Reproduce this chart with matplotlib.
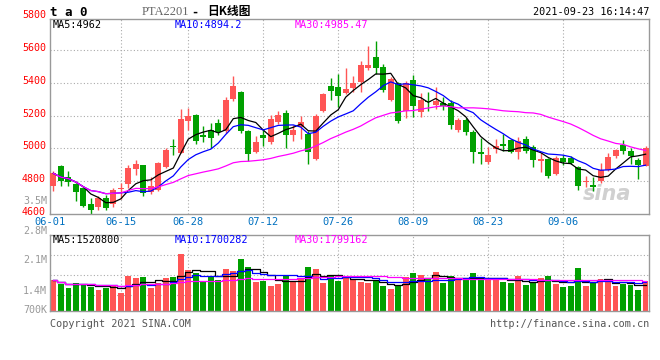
import matplotlib
matplotlib.use("Agg")
import matplotlib.pyplot as plt
import numpy as np
import pandas as pd

# daily candles, PTA2201, 2021-06-01 .. 2021-09-23 (80 trading days)
opens = [4768, 4891, 4827, 4782, 4760, 4663, 4645, 4700, 4663, 4752,
         4782, 4876, 4897, 4733, 4746, 4885, 5018, 4975, 5165, 5202,
         5085, 5111, 5156, 5105, 5303, 5347, 5109, 4976, 5085, 5038,
         5160, 5216, 5081, 5131, 5089, 4933, 5230, 5384, 5372, 5338,
         5368, 5408, 5493, 5556, 5495, 5297, 5398, 5226, 5418, 5223,
         5291, 5267, 5277, 5277, 5115, 5176, 5099, 4978, 4917, 4994,
         5030, 5050, 4980, 5060, 5010, 4923, 4933, 4846, 4943, 4939,
         4889, 4798, 4776, 4802, 4867, 4954, 5020, 4984, 4929, 4893]
highs = [4862, 4897, 4862, 4788, 4770, 4700, 4712, 4715, 4760, 4790,
         4900, 4930, 4897, 4825, 4920, 5000, 5060, 5240, 5245, 5210,
         5140, 5156, 5182, 5311, 5444, 5353, 5115, 5075, 5120, 5206,
         5230, 5236, 5145, 5196, 5105, 5210, 5337, 5428, 5452, 5489,
         5443, 5533, 5624, 5654, 5513, 5438, 5408, 5412, 5449, 5338,
         5344, 5374, 5317, 5297, 5186, 5186, 5115, 5065, 5008, 5060,
         5091, 5060, 5070, 5075, 5024, 4973, 4943, 4953, 4958, 4953,
         4893, 4830, 4826, 4911, 4974, 4998, 5050, 5004, 4943, 5012]
lows = [4740, 4770, 4770, 4680, 4645, 4600, 4622, 4622, 4645, 4690,
        4760, 4840, 4710, 4725, 4738, 4880, 4960, 4970, 5115, 5025,
        5040, 5005, 5085, 5095, 5287, 5095, 4923, 4970, 5015, 5030,
        5150, 5005, 5045, 5055, 4903, 4930, 5225, 5297, 5256, 5330,
        5347, 5347, 5479, 5453, 5347, 5287, 5156, 5186, 5190, 5190,
        5226, 5242, 5236, 5121, 5101, 5085, 4909, 4903, 4907, 4970,
        4984, 4975, 4935, 4975, 4887, 4856, 4820, 4840, 4897, 4907,
        4748, 4766, 4738, 4790, 4860, 4942, 4964, 4903, 4812, 4890]
closes = [4848, 4802, 4797, 4733, 4651, 4627, 4697, 4636, 4745, 4757,
          4882, 4903, 4730, 4770, 4909, 4988, 5006, 5182, 5200, 5045,
          5068, 5061, 5101, 5297, 5382, 5105, 4968, 5040, 5065, 5182,
          5206, 5081, 5111, 5162, 4980, 5196, 5331, 5353, 5322, 5364,
          5398, 5509, 5509, 5493, 5358, 5424, 5170, 5402, 5257, 5297,
          5281, 5287, 5261, 5145, 5176, 5099, 4978, 4968, 4958, 5014,
          5014, 4980, 5044, 4984, 4929, 4937, 4832, 4939, 4917, 4913,
          4772, 4800, 4766, 4867, 4950, 4988, 4984, 4954, 4899, 5000]
volumes = [1835, 1598, 1379, 1675, 1539, 1439, 1243, 1379, 1539, 1066,
           2072, 1971, 2013, 1362, 1640, 1971, 2013, 3374, 2445, 2267,
           1699, 2054, 1835, 2504, 2386, 3078, 2605, 1717, 1794, 1498,
           1616, 2131, 1794, 1912, 2605, 2504, 1658, 2113, 1776, 2072,
           1835, 1717, 1658, 1776, 1480, 1320, 1480, 2013, 2250, 2131,
           1894, 2309, 1658, 2072, 1835, 1835, 2250, 1912, 1936, 1936,
           1717, 1658, 2072, 1539, 1658, 1954, 2072, 1598, 1421, 1480,
           2546, 1480, 1658, 1894, 1835, 1480, 1598, 1539, 1243, 1776]
volumes = [v * 1000 for v in volumes]

tick_idx = [0, 9, 18, 28, 38, 48, 58, 68]
tick_labels = ["06-01", "06-15", "06-28", "07-12", "07-26", "08-09", "08-23", "09-06"]
price_ticks = [5800, 5600, 5400, 5200, 5000, 4800, 4600]
vol_labels = ["3.5M", "2.8M", "2.1M", "1.4M", "700K"]

RED = "#ff5555"
GREEN = "#00a000"
MONO = "DejaVu Sans Mono"

df = pd.DataFrame({"open": opens, "high": highs, "low": lows,
                   "close": closes, "vol": volumes})
n = len(df)
x = np.arange(n)
up = df["close"] >= df["open"]
colors = np.where(up, RED, GREEN)

W, H = 660, 360
fig = plt.figure(figsize=(W / 100, H / 100), dpi=100)
fig.patch.set_facecolor("white")


def box(l, t, r, b):
    return [l / W, 1 - b / H, (r - l) / W, (b - t) / H]


def style_panel(a):
    for s in a.spines.values():
        s.set_color("#999999")
        s.set_linewidth(1)
    a.set_xticks([])
    a.set_yticks([])
    a.set_xlim(-0.45, n - 0.55)
    for t in tick_idx[1:]:
        a.axvline(t, color="#aaaaaa", lw=0.8, ls=(0, (1, 2)), zorder=0)


grid_kw = dict(color="#aaaaaa", lw=0.8, ls=(0, (1, 2)), zorder=0)

# ---- price panel
ax = fig.add_axes(box(50, 19, 649, 214))
style_panel(ax)
ax.set_ylim(4600, 5790)
for p in price_ticks[1:-1]:
    ax.axhline(p, **grid_kw)

body_low = np.minimum(df["open"], df["close"])
body_h = np.maximum((df["close"] - df["open"]).abs(), 6)
ax.vlines(x, df["low"], df["high"], colors=colors, lw=1, zorder=2)
ax.bar(x, body_h, bottom=body_low, width=0.78, color=colors, zorder=3)

for win, c in [(5, "black"), (10, "blue"), (30, "magenta")]:
    ma = df["close"].rolling(win, min_periods=1).mean()
    ax.plot(x, ma, color=c, lw=0.9, zorder=4)

for p in price_ticks:
    ax.annotate(str(p), xy=(0, p), xycoords=ax.get_yaxis_transform(),
                xytext=(-3, 1.5), textcoords="offset points",
                ha="right", va="center", color="red", family=MONO,
                fontsize=7.2, annotation_clip=False)
for t, lab in zip(tick_idx, tick_labels):
    xt = t if t > 0 else -0.4
    ax.text(xt, -0.041, lab, transform=ax.get_xaxis_transform(),
            ha="center", va="center", color="#0070c0", family=MONO, fontsize=7.5)

ax.text(0.93, 0.1, "sina", transform=ax.transAxes, ha="center", va="center",
        fontsize=15, color="#d0d0d0", style="italic", weight="bold", zorder=1)

# ---- volume panel
vax = fig.add_axes(box(50, 235, 649, 311))
style_panel(vax)
vax.set_ylim(0, 4.5e6)
for f in [0.21, 0.474, 0.737]:
    vax.plot([0, 1], [f, f], transform=vax.transAxes, **grid_kw)
vax.bar(x, df["vol"], width=0.76, color=colors, zorder=2)
for win, c in [(5, "black"), (10, "blue"), (30, "magenta")]:
    vma = df["vol"].rolling(win, min_periods=1).mean()
    vax.plot(x, vma, color=c, lw=0.9, drawstyle="steps-mid", zorder=3)

for lab, py in zip(vol_labels, [201, 231, 260, 291, 310]):
    fig.text(47 / W, 1 - py / H, lab, ha="right", va="center",
             color="#999999", family=MONO, fontsize=7.2)

# ---- header / legends / footer
mono = dict(family=MONO, fontsize=7.3, va="center")
fig.text(50 / W, 1 - 12 / H, "t a 0", family=MONO, fontsize=9,
         weight="bold", va="center")
fig.text(142 / W, 1 - 12 / H, "PTA2201", family="Liberation Serif",
         fontsize=9, color="#666666", va="center")
fig.text(191 / W, 1 - 12 / H, "-", family=MONO, fontsize=8.5,
         weight="bold", va="center")
fig.text(207 / W, 1 - 12 / H, "日K线图", family=["Noto Sans CJK SC", "DejaVu Sans"],
         fontsize=8.5, weight="bold", va="center")
fig.text(649 / W, 1 - 12 / H, "2021-09-23 16:14:47", ha="right", **mono)

fig.text(53 / W, 1 - 25 / H, "MA5:4962", color="black", **mono)
fig.text(175 / W, 1 - 25 / H, "MA10:4894.2", color="blue", **mono)
fig.text(295 / W, 1 - 25 / H, "MA30:4985.47", color="magenta", **mono)

fig.text(53 / W, 1 - 240 / H, "MA5:1520800", color="black", **mono)
fig.text(175 / W, 1 - 240 / H, "MA10:1700282", color="blue", **mono)
fig.text(295 / W, 1 - 240 / H, "MA30:1799162", color="magenta", **mono)

fig.text(50 / W, 1 - 324 / H, "Copyright 2021 SINA.COM", color="#555555", **mono)
fig.text(649 / W, 1 - 324 / H, "http://finance.sina.com.cn", ha="right",
         color="#555555", **mono)

fig.savefig("out.png", dpi=100)
